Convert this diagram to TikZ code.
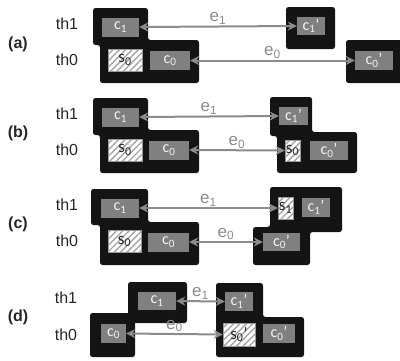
\documentclass[tikz,border=0pt]{standalone}
\usepackage{fontspec}
\setmainfont{Liberation Sans}
\newfontfamily\boxfont{Carlito}
\usetikzlibrary{arrows.meta,patterns.meta}
\definecolor{cbox}{RGB}{128,128,128}
\definecolor{carr}{RGB}{140,140,140}

\begin{document}
\begin{tikzpicture}[x=1pt,y=-1pt,
      box/.style={fill=cbox,inner sep=0pt,minimum width=#1,minimum height=19pt,
        font=\boxfont\fontsize{16}{16}\selectfont,text=white!90!gray},
      hat/.style={draw=gray!80,preaction={fill=white},
        pattern={Lines[angle=45,distance=4.5pt,line width=1.4pt]},
        pattern color=gray!70,inner sep=0pt,minimum width=#1,minimum height=22pt,
        font=\boxfont\fontsize{17}{17}\selectfont,text=black!85},
      blob/.style={fill=black!92,rounded corners=2.5pt},
      arr/.style={{Stealth[length=9pt,width=9pt]}-{Stealth[length=9pt,width=9pt]},
        carr,line width=2pt},
      elab/.style={midway,above=1pt,inner sep=0pt,text=carr,
        font=\fontsize{17}{17}\selectfont},
      th/.style={font=\fontsize{16}{16}\selectfont,text=black!85},
      pan/.style={font=\bfseries\fontsize{16}{16}\selectfont,text=black!85}]
  \useasboundingbox (0,0) rectangle (400,360);
  % (a)
  \fill[blob] (93,8) -- (148,8) -- (148,40) -- (199,40) -- (199,83)
    -- (100,83) -- (100,45) -- (93,45) -- cycle;
  \fill[blob] (286,7) rectangle (335,49);
  \fill[blob] (346,40) rectangle (406,83);
  \node[pan] (a-lab) at (18,44) {(a)};
  \node[th] (a-th1) at (67,24) {th1};
  \node[th] (a-th0) at (67,60) {th0};
  \node[box=37pt] (a-c1) at (120.5,27) {c\textsubscript{1}};
  \node[hat=34pt] (a-s0) at (125,60) {s\textsubscript{0}};
  \node[box=40pt] (a-c0) at (170,60.5) {c\textsubscript{0}};
  \node[box=28pt,minimum height=18pt] (a-c1p) at (311,26) {c\textsubscript{1}’};
  \node[box=38pt] (a-c0p) at (374,60.5) {c\textsubscript{0}’};
  \draw[arr] (a-c1.east) -- node[elab] {e\textsubscript{1}} (a-c1p.west);
  \draw[arr] (a-c0.east) -- node[elab] {e\textsubscript{0}} (a-c0p.west);
  % (b)
  \fill[blob] (93,98) -- (148,98) -- (148,130) -- (199,130) -- (199,173)
    -- (100,173) -- (100,135) -- (93,135) -- cycle;
  \fill[blob] (270,97) -- (312,97) -- (312,132) -- (357,132) -- (357,173)
    -- (277,173) -- (277,136) -- (270,136) -- cycle;
  \node[pan] (b-lab) at (18,133) {(b)};
  \node[th] (b-th1) at (67,114) {th1};
  \node[th] (b-th0) at (67,150) {th0};
  \node[box=37pt] (b-c1) at (120.5,117) {c\textsubscript{1}};
  \node[hat=34pt] (b-s0) at (125,150) {s\textsubscript{0}};
  \node[box=40pt] (b-c0) at (169,150) {c\textsubscript{0}};
  \node[box=29pt,minimum height=18pt] (b-c1p) at (293.5,116) {c\textsubscript{1}’};
  \node[hat=15pt,minimum height=21pt] (b-s0r) at (292.5,150.5) {s\textsubscript{0}};
  \node[box=38pt] (b-c0p) at (329,150.5) {c\textsubscript{0}’};
  \draw[arr] (b-c1.east) -- node[elab] {e\textsubscript{1}} (b-c1p.west);
  \draw[arr] (b-c0.east) -- node[elab] {e\textsubscript{0}} (b-s0r.west);
  % (c)
  \fill[blob] (91,189) -- (148,189) -- (148,222) -- (199,222) -- (199,265)
    -- (100,265) -- (100,225) -- (91,225) -- cycle;
  \fill[blob] (270,187) -- (342,187) -- (342,232) -- (310,232) -- (310,265)
    -- (253,265) -- (253,227) -- (270,227) -- cycle;
  \node[pan] (c-lab) at (18,224) {(c)};
  \node[th] (c-th1) at (67,205) {th1};
  \node[th] (c-th0) at (67,241) {th0};
  \node[box=38pt] (c-c1) at (120,208) {c\textsubscript{1}};
  \node[hat=33pt] (c-s0) at (124.5,241.5) {s\textsubscript{0}};
  \node[box=41pt] (c-c0) at (168.5,242) {c\textsubscript{0}};
  \node[hat=15pt] (c-s1r) at (285.5,208) {s\textsubscript{1}};
  \node[box=28pt] (c-c1p) at (316,207.5) {c\textsubscript{1}’};
  \node[box=37pt,minimum height=18pt] (c-c0p) at (281.5,242) {c\textsubscript{0}’};
  \draw[arr] (c-c1.east) -- node[elab] {e\textsubscript{1}} (c-s1r.west);
  \draw[arr] (c-c0.east) -- node[elab] {e\textsubscript{0}} (c-c0p.west);
  % (d)
  \fill[blob] (128,282) rectangle (187,323);
  \fill[blob] (90,313) rectangle (135,357);
  \fill[blob] (216,283) -- (263,283) -- (263,317) -- (304,317) -- (304,357)
    -- (216,357) -- cycle;
  \node[pan] (d-lab) at (18,317) {(d)};
  \node[th] (d-th1) at (66,298) {th1};
  \node[th] (d-th0) at (66,335) {th0};
  \node[box=38pt,minimum height=18pt] (d-c1) at (157,301) {c\textsubscript{1}};
  \node[box=25pt] (d-c0) at (113.5,333.5) {c\textsubscript{0}};
  \node[box=28pt] (d-c1p) at (239,301.5) {c\textsubscript{1}’};
  \node[hat=32pt,minimum height=23pt] (d-s0p) at (239,334.5) {s\textsubscript{0}’};
  \node[box=32pt] (d-c0p) at (279,333.5) {c\textsubscript{0}’};
  \draw[arr] (d-c1.east) -- node[elab] {e\textsubscript{1}} (d-c1p.west);
  \draw[arr] (d-c0.east) -- node[elab] {e\textsubscript{0}} (d-s0p.west);
\end{tikzpicture}
\end{document}
